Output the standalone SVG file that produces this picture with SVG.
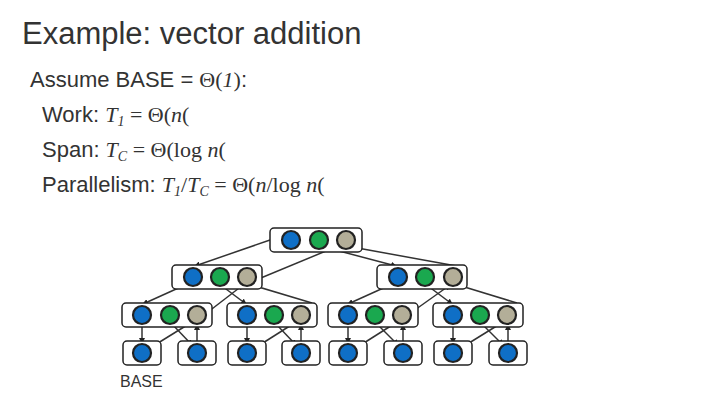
<svg xmlns="http://www.w3.org/2000/svg" width="720" height="405" viewBox="0 0 720 405">
<defs>
<marker id="a" markerWidth="6" markerHeight="6" refX="5" refY="3" orient="auto" markerUnits="userSpaceOnUse"><path d="M0,0 L6,3 L0,6 z" fill="#222"/></marker>
<style>
.t{font-family:"Liberation Sans",Arial,sans-serif;fill:#333}
.m{font-family:"Liberation Serif","Times New Roman",serif}
.bx{fill:#fff;stroke:#222;stroke-width:1.5}
.b{fill:#0f6fc6;stroke:#222;stroke-width:2.2}
.g{fill:#1aa84f;stroke:#222;stroke-width:2.2}
.n{fill:#b3ae98;stroke:#222;stroke-width:2.2}
.e{stroke:#333;stroke-width:1.5;fill:none;marker-end:url(#a)}
</style>
</defs>
<rect width="720" height="405" fill="#fff"/>
<text class="t" x="22" y="44" font-size="31">Example: vector addition</text>
<g class="t" font-size="22">
<text x="30" y="87">Assume BASE = <tspan class="m">Θ(</tspan><tspan class="m" font-style="italic">1</tspan><tspan class="m">)</tspan>:</text>
<text x="42" y="122">Work: <tspan class="m" font-style="italic">T</tspan><tspan class="m" font-style="italic" font-size="14" dy="4">1</tspan><tspan class="m" dy="-4"> = Θ(</tspan><tspan class="m" font-style="italic">n</tspan><tspan class="m">(</tspan></text>
<text x="42" y="157">Span: <tspan class="m" font-style="italic">T</tspan><tspan class="m" font-style="italic" font-size="14" dy="4">C</tspan><tspan class="m" dy="-4"> = Θ(log </tspan><tspan class="m" font-style="italic">n</tspan><tspan class="m">(</tspan></text>
<text x="42" y="192">Parallelism: <tspan class="m" font-style="italic">T</tspan><tspan class="m" font-style="italic" font-size="14" dy="4">1</tspan><tspan class="m" dy="-4">/</tspan><tspan class="m" font-style="italic">T</tspan><tspan class="m" font-style="italic" font-size="14" dy="4">C</tspan><tspan class="m" dy="-4"> = Θ(</tspan><tspan class="m" font-style="italic">n</tspan><tspan class="m">/log </tspan><tspan class="m" font-style="italic">n</tspan><tspan class="m">(</tspan></text>
</g>
<text class="t" x="120" y="387" font-size="16" fill="#111">BASE</text>
<g id="connectors">
<line class="e" x1="270" y1="240" x2="195" y2="266"/>
<line class="e" x1="256" y1="280" x2="338" y2="246"/>
<line class="e" x1="324" y1="247" x2="396" y2="266"/>
<line class="e" x1="462" y1="267" x2="352" y2="247"/>
<line class="e" x1="185" y1="285" x2="143" y2="304"/>
<line class="e" x1="208" y1="312" x2="243" y2="285"/>
<line class="e" x1="222" y1="286" x2="246" y2="304"/>
<line class="e" x1="312" y1="303" x2="252" y2="285"/>
<line class="e" x1="390" y1="285" x2="348" y2="304"/>
<line class="e" x1="412" y1="312" x2="450" y2="285"/>
<line class="e" x1="428" y1="286" x2="452" y2="304"/>
<line class="e" x1="517" y1="303" x2="458" y2="285"/>
<line class="e" x1="142" y1="324" x2="142" y2="343"/>
<line class="e" x1="150" y1="348" x2="192" y2="322"/>
<line class="e" x1="172" y1="324" x2="192" y2="345"/>
<line class="e" x1="197" y1="344" x2="197" y2="325"/>
<line class="e" x1="247" y1="324" x2="247" y2="343"/>
<line class="e" x1="255" y1="348" x2="296" y2="322"/>
<line class="e" x1="276" y1="324" x2="296" y2="345"/>
<line class="e" x1="301" y1="344" x2="301" y2="325"/>
<line class="e" x1="348" y1="324" x2="348" y2="343"/>
<line class="e" x1="356" y1="348" x2="397" y2="322"/>
<line class="e" x1="377" y1="324" x2="398" y2="345"/>
<line class="e" x1="403" y1="344" x2="403" y2="325"/>
<line class="e" x1="453" y1="324" x2="453" y2="343"/>
<line class="e" x1="461" y1="348" x2="503" y2="322"/>
<line class="e" x1="482" y1="324" x2="503" y2="345"/>
<line class="e" x1="508" y1="344" x2="508" y2="325"/>
</g>
<g id="top"><rect class="bx" x="270" y="228" width="92" height="24" rx="4"/><circle class="b" cx="291" cy="240" r="9"/><circle class="g" cx="319" cy="240" r="9"/><circle class="n" cx="346" cy="240" r="9"/></g>
<g id="l2a"><rect class="bx" x="172" y="265" width="90" height="24" rx="4"/><circle class="b" cx="193" cy="277" r="9"/><circle class="g" cx="220" cy="277" r="9"/><circle class="n" cx="247" cy="277" r="9"/></g>
<g id="l2b"><rect class="bx" x="377" y="265" width="90" height="24" rx="4"/><circle class="b" cx="398" cy="277" r="9"/><circle class="g" cx="425" cy="277" r="9"/><circle class="n" cx="453" cy="277" r="9"/></g>
<g id="l3a"><rect class="bx" x="122" y="303" width="90" height="24" rx="4"/><circle class="b" cx="142" cy="315" r="9"/><circle class="g" cx="170" cy="315" r="9"/><circle class="n" cx="197" cy="315" r="9"/></g>
<g id="l3b"><rect class="bx" x="227" y="303" width="90" height="24" rx="4"/><circle class="b" cx="247" cy="315" r="9"/><circle class="g" cx="274" cy="315" r="9"/><circle class="n" cx="301" cy="315" r="9"/></g>
<g id="l3c"><rect class="bx" x="328" y="303" width="90" height="24" rx="4"/><circle class="b" cx="348" cy="315" r="9"/><circle class="g" cx="375" cy="315" r="9"/><circle class="n" cx="402" cy="315" r="9"/></g>
<g id="l3d"><rect class="bx" x="433" y="303" width="90" height="24" rx="4"/><circle class="b" cx="453" cy="315" r="9"/><circle class="g" cx="480" cy="315" r="9"/><circle class="n" cx="507" cy="315" r="9"/></g>
<g id="leaves">
<g id="f1"><rect class="bx" x="123" y="341" width="38" height="24" rx="4"/><circle class="b" cx="142" cy="353" r="9"/></g>
<g id="f2"><rect class="bx" x="178" y="341" width="38" height="24" rx="4"/><circle class="b" cx="197" cy="353" r="9"/></g>
<g id="f3"><rect class="bx" x="228" y="341" width="38" height="24" rx="4"/><circle class="b" cx="247" cy="353" r="9"/></g>
<g id="f4"><rect class="bx" x="282" y="341" width="38" height="24" rx="4"/><circle class="b" cx="301" cy="353" r="9"/></g>
<g id="f5"><rect class="bx" x="329" y="341" width="38" height="24" rx="4"/><circle class="b" cx="348" cy="353" r="9"/></g>
<g id="f6"><rect class="bx" x="384" y="341" width="38" height="24" rx="4"/><circle class="b" cx="403" cy="353" r="9"/></g>
<g id="f7"><rect class="bx" x="434" y="341" width="38" height="24" rx="4"/><circle class="b" cx="453" cy="353" r="9"/></g>
<g id="f8"><rect class="bx" x="489" y="341" width="38" height="24" rx="4"/><circle class="b" cx="508" cy="353" r="9"/></g>
</g>
</svg>
